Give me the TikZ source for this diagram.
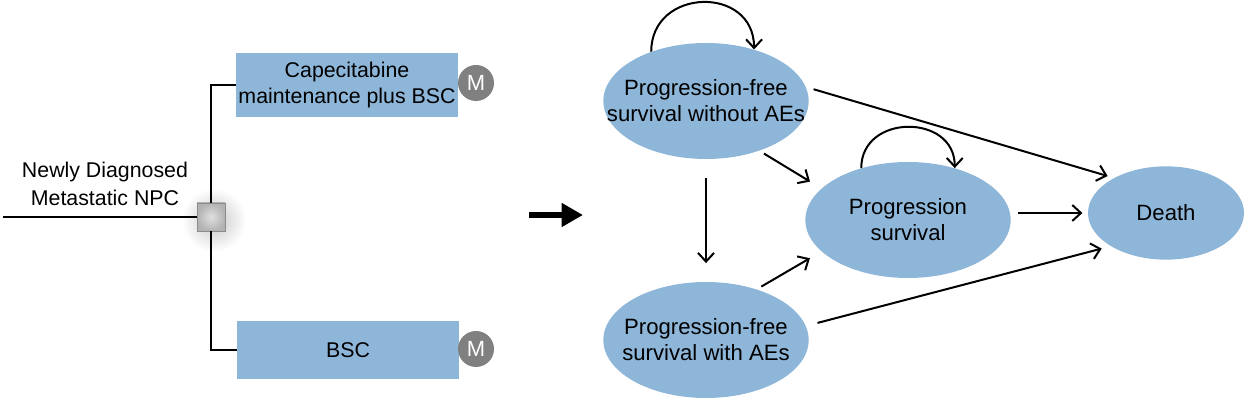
\documentclass[tikz,border=0pt]{standalone}
\usepackage{fontspec}
\setmainfont{Liberation Sans}
\usetikzlibrary{arrows.meta, shapes.geometric}
\definecolor{boxblue}{RGB}{142,182,217}
\definecolor{mgray}{RGB}{128,128,128}

\begin{document}
\begin{tikzpicture}[x = 0.75pt, y = 0.75pt]
\tikzstyle{TreeBox}=[
shape = rectangle,
fill = boxblue,
minimum width = 166pt,
inner sep = 0pt,
align = center,
font = \fontsize{16}{20}\selectfont]
\tikzstyle{MarkovTag}=[
shape = circle,
fill = mgray,
text = white,
minimum size = 27pt,
inner sep = 0pt,
font = \fontsize{16.5}{20}\selectfont]
\tikzstyle{DecStyle}=[
shape = rectangle,
minimum size = 21pt,
inner sep = 0pt,
draw = gray!90,
line width = 0.6pt,
inner color = gray!25,
outer color = gray!60]
\tikzstyle{TreeLine}=[
line width = 1.5pt]
\tikzstyle{StateStyle}=[
shape = ellipse,
fill = boxblue,
minimum width = 154pt,
minimum height = 87pt,
inner sep = 0pt]
\tikzstyle{StateText}=[
align = center,
font = \fontsize{16.6}{19.5}\selectfont]
\tikzstyle{Trans}=[
-{Straight Barb[length = 6.5pt, width = 12pt]},
line width = 1.5pt]
\tikzstyle{BigArrow}=[
-{Triangle[length = 16pt, width = 17pt]},
line width = 5pt]
\useasboundingbox (0, 0) rectangle (1248, 402);
\shade[inner color = gray!45, outer color = white] (214, 182) circle (32);
\coordinate (start) at (3, 185);
\node[DecStyle] (dec) at (211, 185) {};
\node[align = center, font = \fontsize{16}{21}\selectfont] (newly) at (105, 218) {Newly Diagnosed\\Metastatic NPC};
\node[TreeBox, minimum height = 48pt] (capbox) at (347, 317) {Capecitabine\\maintenance plus BSC};
\node[TreeBox, minimum height = 43.5pt] (bscbox) at (348, 52) {BSC};
\node[MarkovTag] (mcap) at (476, 319) {M};
\node[MarkovTag] (mbsc) at (476, 53) {M};
\draw[TreeLine] (start) -- (dec);
\draw[TreeLine] (dec) |- (capbox);
\draw[TreeLine] (dec) |- (bscbox);
\coordinate (arrs) at (529, 187);
\coordinate (arre) at (583, 187);
\draw[BigArrow] (arrs) -- (arre);
\node[StateStyle, label = {[StateText]center:{Progression-free\\survival without AEs}}] (pfs) at (706, 301) {};
\node[StateStyle, label = {[StateText]center:{Progression-free\\survival with AEs}}] (pfsae) at (706, 62) {};
\node[StateStyle, label = {[StateText]center:{Progression\\survival}}] (prog) at (908, 182) {};
\node[StateStyle, minimum width = 117pt, minimum height = 70pt, label = {[StateText]center:{Death}}] (death) at (1166, 189) {};
\draw[Trans] (pfs.138) to[out = 90, in = 90, looseness = 1.6] (pfs.47);
\draw[Trans] (prog.132) to[out = 90, in = 90, looseness = 1.5] (prog.48);
\draw[Trans, shorten < = 14pt, shorten > = 14pt] (pfs) -- (pfsae);
\draw[Trans, shorten < = 4pt, shorten > = 10pt] (pfs.-43) -- (prog.160);
\draw[Trans, shorten < = 4pt, shorten > = 10pt] (pfsae.45) -- (prog.200);
\draw[Trans, shorten < = 6pt, shorten > = 5pt] (pfs.8) -- (death.146);
\draw[Trans, shorten < = 9pt, shorten > = 7pt] (pfsae.8) -- (death.211);
\draw[Trans, shorten < = 5pt, shorten > = 4pt] (prog.east |- death) -- (death.west);
\end{tikzpicture}
\end{document}
